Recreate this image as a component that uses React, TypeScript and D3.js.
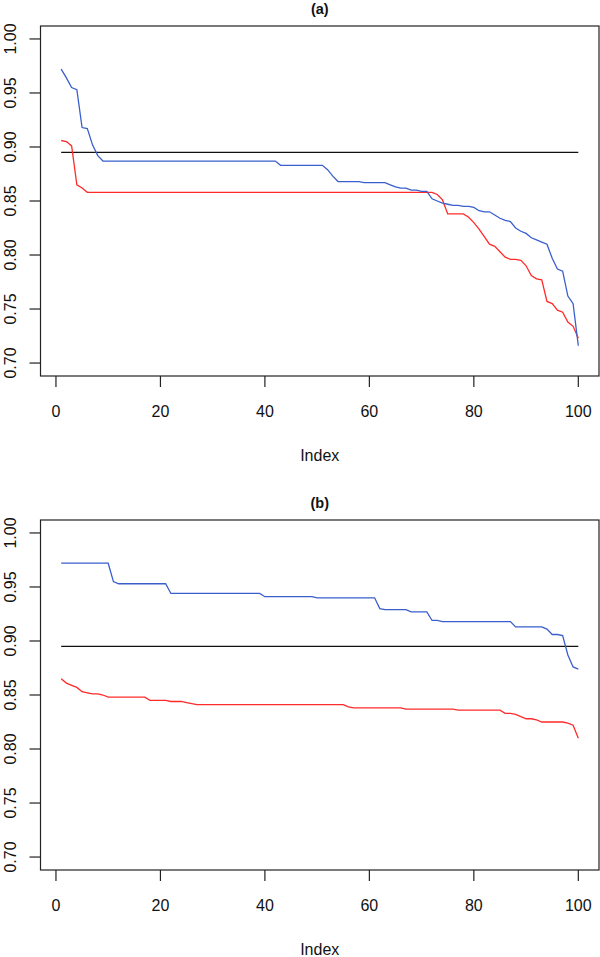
import React from "react";
import * as d3 from "d3";

// ---------- data ----------
const xTicks = [0, 20, 40, 60, 80, 100];
const yTicks = [0.7, 0.75, 0.8, 0.85, 0.9, 0.95, 1.0];
const refLevel = 0.895;

const blueA = [
  0.972, 0.964, 0.955, 0.953, 0.918, 0.917, 0.902, 0.892, 0.887, 0.887,
  0.887, 0.887, 0.887, 0.887, 0.887, 0.887, 0.887, 0.887, 0.887, 0.887,
  0.887, 0.887, 0.887, 0.887, 0.887, 0.887, 0.887, 0.887, 0.887, 0.887,
  0.887, 0.887, 0.887, 0.887, 0.887, 0.887, 0.887, 0.887, 0.887, 0.887,
  0.887, 0.887, 0.883, 0.883, 0.883, 0.883, 0.883, 0.883, 0.883, 0.883,
  0.883, 0.879, 0.873, 0.868, 0.868, 0.868, 0.868, 0.868, 0.867, 0.867,
  0.867, 0.867, 0.867, 0.865, 0.863, 0.862, 0.862, 0.860, 0.860, 0.859,
  0.859, 0.852, 0.850, 0.848, 0.847, 0.846, 0.846, 0.845, 0.845, 0.844,
  0.841, 0.840, 0.840, 0.837, 0.834, 0.832, 0.831, 0.825, 0.822, 0.820,
  0.816, 0.814, 0.812, 0.810, 0.797, 0.787, 0.785, 0.762, 0.755, 0.716,
];

const redA = [
  0.906, 0.905, 0.901, 0.865, 0.862, 0.858, 0.858, 0.858, 0.858, 0.858,
  0.858, 0.858, 0.858, 0.858, 0.858, 0.858, 0.858, 0.858, 0.858, 0.858,
  0.858, 0.858, 0.858, 0.858, 0.858, 0.858, 0.858, 0.858, 0.858, 0.858,
  0.858, 0.858, 0.858, 0.858, 0.858, 0.858, 0.858, 0.858, 0.858, 0.858,
  0.858, 0.858, 0.858, 0.858, 0.858, 0.858, 0.858, 0.858, 0.858, 0.858,
  0.858, 0.858, 0.858, 0.858, 0.858, 0.858, 0.858, 0.858, 0.858, 0.858,
  0.858, 0.858, 0.858, 0.858, 0.858, 0.858, 0.858, 0.858, 0.858, 0.858,
  0.858, 0.858, 0.856, 0.851, 0.838, 0.838, 0.838, 0.838, 0.835, 0.830,
  0.824, 0.817, 0.810, 0.808, 0.803, 0.798, 0.796, 0.796, 0.795, 0.790,
  0.781, 0.778, 0.777, 0.757, 0.755, 0.749, 0.747, 0.738, 0.734, 0.723,
];

const blueB = [
  0.972, 0.972, 0.972, 0.972, 0.972, 0.972, 0.972, 0.972, 0.972, 0.972,
  0.955, 0.953, 0.953, 0.953, 0.953, 0.953, 0.953, 0.953, 0.953, 0.953,
  0.953, 0.944, 0.944, 0.944, 0.944, 0.944, 0.944, 0.944, 0.944, 0.944,
  0.944, 0.944, 0.944, 0.944, 0.944, 0.944, 0.944, 0.944, 0.944, 0.941,
  0.941, 0.941, 0.941, 0.941, 0.941, 0.941, 0.941, 0.941, 0.941, 0.940,
  0.940, 0.940, 0.940, 0.940, 0.940, 0.940, 0.940, 0.940, 0.940, 0.940,
  0.940, 0.930, 0.929, 0.929, 0.929, 0.929, 0.929, 0.927, 0.927, 0.927,
  0.927, 0.919, 0.919, 0.918, 0.918, 0.918, 0.918, 0.918, 0.918, 0.918,
  0.918, 0.918, 0.918, 0.918, 0.918, 0.918, 0.918, 0.913, 0.913, 0.913,
  0.913, 0.913, 0.913, 0.911, 0.906, 0.906, 0.905, 0.887, 0.876, 0.874,
];

const redB = [
  0.865, 0.861, 0.859, 0.857, 0.853, 0.852, 0.851, 0.851, 0.850, 0.848,
  0.848, 0.848, 0.848, 0.848, 0.848, 0.848, 0.848, 0.845, 0.845, 0.845,
  0.845, 0.844, 0.844, 0.844, 0.843, 0.842, 0.841, 0.841, 0.841, 0.841,
  0.841, 0.841, 0.841, 0.841, 0.841, 0.841, 0.841, 0.841, 0.841, 0.841,
  0.841, 0.841, 0.841, 0.841, 0.841, 0.841, 0.841, 0.841, 0.841, 0.841,
  0.841, 0.841, 0.841, 0.841, 0.841, 0.839, 0.838, 0.838, 0.838, 0.838,
  0.838, 0.838, 0.838, 0.838, 0.838, 0.838, 0.837, 0.837, 0.837, 0.837,
  0.837, 0.837, 0.837, 0.837, 0.837, 0.837, 0.836, 0.836, 0.836, 0.836,
  0.836, 0.836, 0.836, 0.836, 0.836, 0.833, 0.833, 0.832, 0.830, 0.828,
  0.828, 0.827, 0.825, 0.825, 0.825, 0.825, 0.825, 0.824, 0.822, 0.810,
];

const panels = [
  { title: "(a)", blue: blueA, red: redA, top: 26, bottom: 376 },
  { title: "(b)", blue: blueB, red: redB, top: 520, bottom: 870 },
];

// ---------- layout ----------
const W = 600;
const H = 957;
const LEFT = 40.5;
const RIGHT = 599;
const FONT = "'Liberation Sans', Arial, Helvetica, sans-serif";
const BLUE = "#3a5fcd";
const RED = "#ff2a2a";
const AXIS = "#222";

const xScale = d3.scaleLinear().domain([-2.96, 103.96]).range([LEFT, RIGHT]);

function Panel({ p }: { p: (typeof panels)[number] }) {
  const y = d3.scaleLinear().domain([0.688, 1.012]).range([p.bottom, p.top]);
  const line = d3
    .line<number>()
    .x((_, i) => xScale(i + 1))
    .y((v) => y(v));
  const refPath = d3
    .line<number>()
    .x((i) => xScale(i))
    .y(() => y(refLevel))([1, 100]);
  const midX = (LEFT + RIGHT) / 2;
  return (
    <g>
      <text
        x={midX}
        y={p.top - 12}
        textAnchor="middle"
        fontFamily={FONT}
        fontWeight="bold"
        fontSize={14.5}
        fill="#111"
      >
        {p.title}
      </text>
      <rect
        x={LEFT}
        y={p.top}
        width={RIGHT - LEFT}
        height={p.bottom - p.top}
        fill="none"
        stroke={AXIS}
        strokeWidth={1.2}
      />
      {yTicks.map((t) => (
        <g key={"y" + t}>
          <line x1={LEFT - 11} x2={LEFT} y1={y(t)} y2={y(t)} stroke={AXIS} strokeWidth={1.2} />
          <text
            transform={`translate(${LEFT - 25},${y(t)}) rotate(-90)`}
            textAnchor="middle"
            fontFamily={FONT}
            fontSize={16}
            fill="#111"
          >
            {t.toFixed(2)}
          </text>
        </g>
      ))}
      {xTicks.map((t) => (
        <g key={"x" + t}>
          <line
            x1={xScale(t)}
            x2={xScale(t)}
            y1={p.bottom}
            y2={p.bottom + 11}
            stroke={AXIS}
            strokeWidth={1.2}
          />
          <text
            x={xScale(t)}
            y={p.bottom + 41}
            textAnchor="middle"
            fontFamily={FONT}
            fontSize={16}
            fill="#111"
          >
            {t}
          </text>
        </g>
      ))}
      <text
        x={midX}
        y={p.bottom + 85}
        textAnchor="middle"
        fontFamily={FONT}
        fontSize={16}
        fill="#111"
      >
        Index
      </text>
      <path d={refPath ?? ""} fill="none" stroke="#111" strokeWidth={1.3} />
      <path d={line(p.red) ?? ""} fill="none" stroke={RED} strokeWidth={1.3} />
      <path d={line(p.blue) ?? ""} fill="none" stroke={BLUE} strokeWidth={1.3} />
    </g>
  );
}

export default function App() {
  return (
    <svg
      width={W}
      height={H}
      viewBox={`0 0 ${W} ${H}`}
      style={{ position: "absolute", left: 0, top: 0, background: "#fff" }}
    >
      <rect x={0} y={0} width={W} height={H} fill="#fff" />
      {panels.map((p) => (
        <Panel key={p.title} p={p} />
      ))}
    </svg>
  );
}
